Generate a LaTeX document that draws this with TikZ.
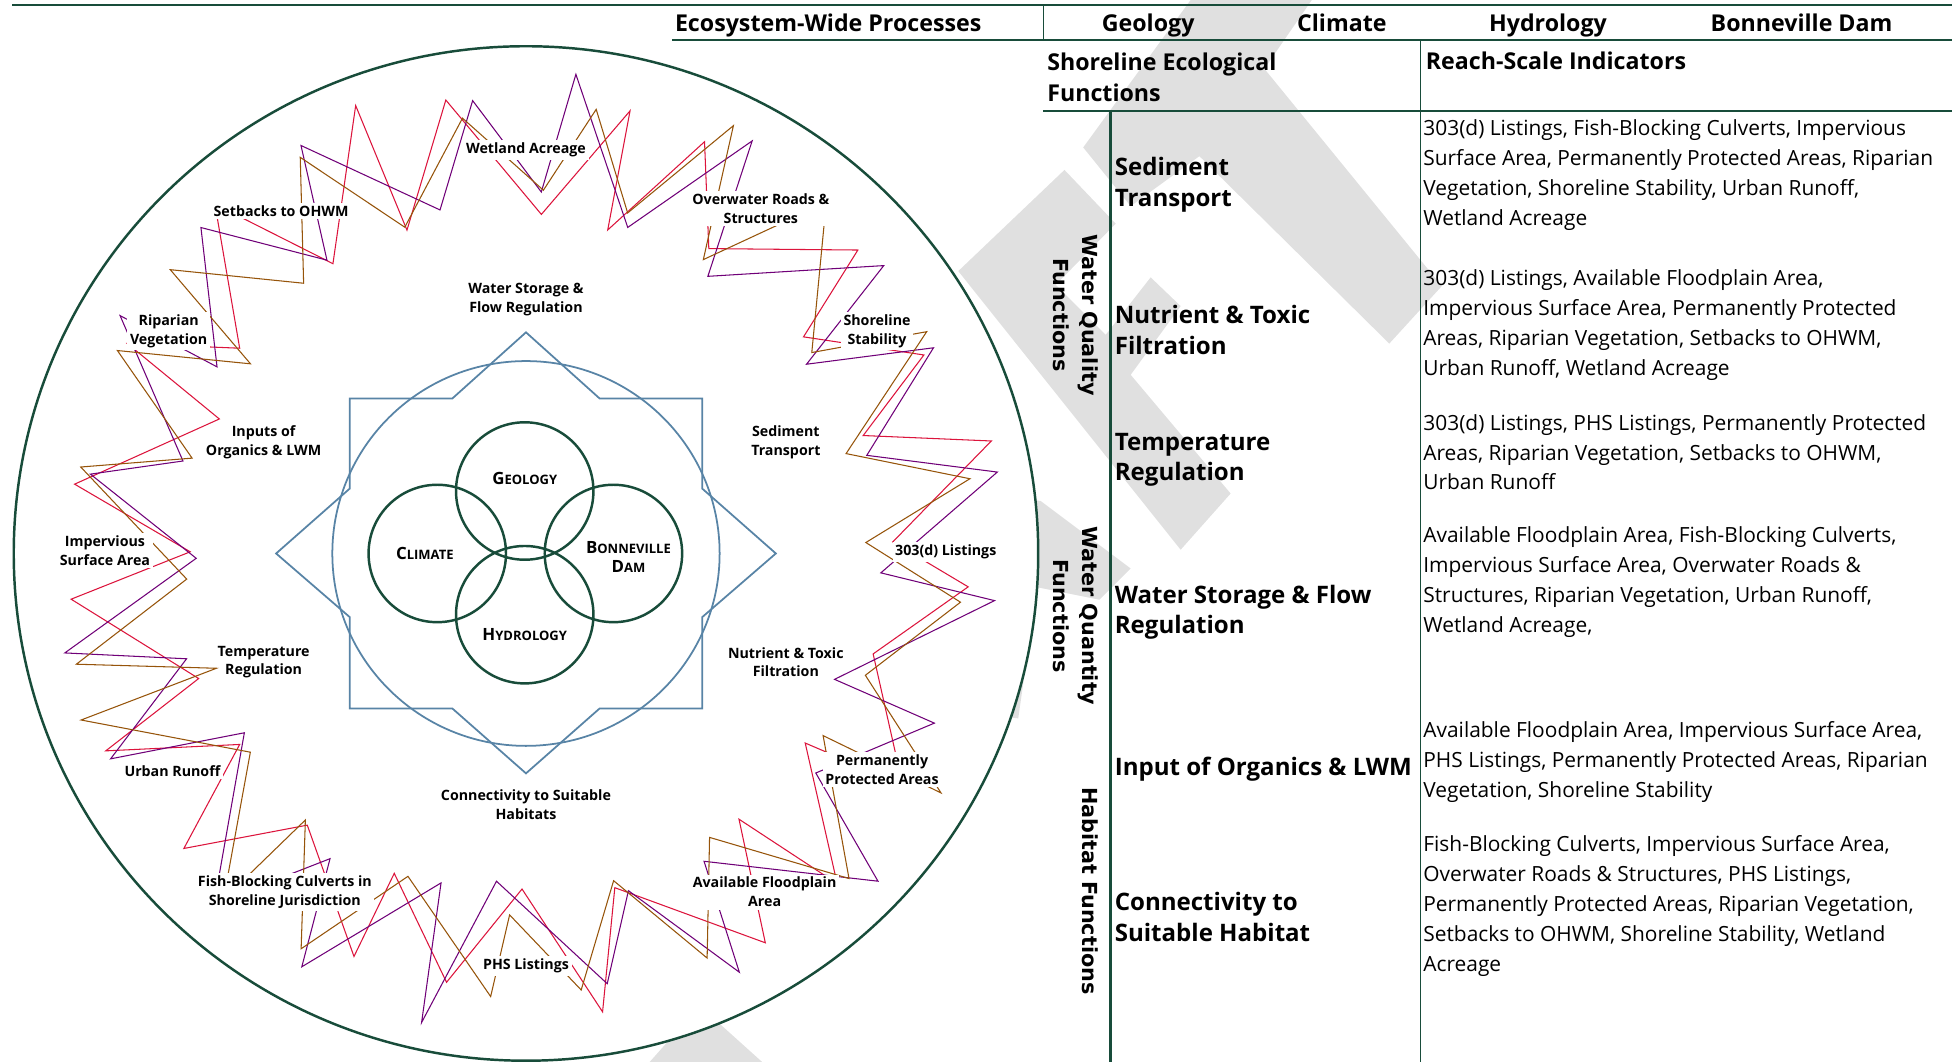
\documentclass[tikz,border=0pt]{standalone}
\usepackage{fontspec}
\setmainfont{Open Sans}
\newfontfamily\vertfont{DejaVu Sans}
\usepackage{xcolor}
\usetikzlibrary{backgrounds}

\definecolor{tablegreen}{RGB}{24,76,58}
\definecolor{starblue}{RGB}{88,132,166}
\definecolor{wmgray}{RGB}{224,224,224}
\definecolor{zzred}{RGB}{220,20,60}
\definecolor{zzpurple}{RGB}{112,0,120}
\definecolor{zzbrown}{RGB}{150,84,10}

% fake small caps for the four core processes
\newcommand{\fakesc}[2]{{\fontsize{9.6}{11}\selectfont #1}{\fontsize{7.4}{9}\selectfont #2}}

\begin{document}
\begin{tikzpicture}[
        x=0.025cm, y=-0.025cm,
        rule/.style={draw=tablegreen, line width=1.4pt},
        thinrule/.style={draw=tablegreen, line width=0.8pt},
        colhead/.style={font=\bfseries\fontsize{13.2}{17.5}\selectfont,
            inner sep=0pt, anchor=base},
        headcell/.style={font=\bfseries\fontsize{13.2}{17.5}\selectfont,
            align=left, anchor=west, inner sep=0pt},
        funcname/.style={font=\bfseries\fontsize{13.7}{17.5}\selectfont,
            align=left, anchor=west, inner sep=0pt},
        indicators/.style={font=\fontsize{11.9}{17}\selectfont,
            align=left, anchor=west, inner sep=0pt},
        group/.style={font=\vertfont\bfseries\fontsize{11.8}{17}\selectfont,
            align=center, rotate=-90, inner sep=0pt},
        ringlabel/.style={font=\bfseries\fontsize{8.1}{10.7}\selectfont,
            align=center, fill=white, inner sep=1.5pt},
        funclabel/.style={font=\bfseries\fontsize{8.1}{10.7}\selectfont,
            align=center, inner sep=0pt},
        core/.style={draw=tablegreen, line width=1.4pt},
        star/.style={draw=starblue, line width=1pt},
        zigzag/.style={line width=0.6pt, line join=miter}
    ]
        \useasboundingbox (0,0) rectangle (1568,850);

        % Watermark pieces behind everything.
        \begin{scope}[on background layer]
            \fill[wmgray] (867,118) -- (953,0) -- (1050,0) -- (1012,55)
                -- (1154,229) -- (1112,275) -- (960,125) -- (905,165) -- cycle;
            \fill[wmgray] (767,217) -- (852,136) -- (893,179) -- (845,228)
                -- (885,268) -- (921,222) -- (945,245) -- (905,300)
                -- (985,395) -- (945,440) -- cycle;
            \fill[wmgray] (790,395) -- (833,401) -- (905,455) -- (880,480)
                -- (830,470) -- (815,575) -- (775,570) -- cycle;
            \fill[wmgray] (520,850) -- (560,805) -- (610,850) -- cycle;
        \end{scope}

        % Outer ring of the conceptual model.
        \draw[tablegreen, line width=1.4pt, fill=white] (421,443)
            ellipse [x radius=410, y radius=406];

        % Indicator zigzags, one colour per series.
        \begin{scope}[shift={(421,443)}]
            \foreach \zzcol/\zzseed in {zzred/3, zzpurple/17, zzbrown/29} {
                \pgfmathsetseed{\zzseed}
                \draw[zigzag, \zzcol] ({5*rand}:{265+30*rnd})
                    \foreach \i in {1,...,39} {
                        -- ({\i*9+5*rand}:{ifthenelse(isodd(\i),388-40*rnd,262+30*rnd)})
                    } -- cycle;
            }
        \end{scope}

        % Star and circle round the core.
        \draw[star] (421,443) ellipse [x radius=155, y radius=154];
        \draw[star] (280,319) -- (362,319) -- (421,266) -- (480,319)
            -- (562,319) -- (562,391) -- (621,443) -- (562,494)
            -- (562,567) -- (480,567) -- (421,619) -- (362,567)
            -- (280,567) -- (280,494) -- (221,443) -- (280,391) -- cycle;

        % Ecosystem-wide processes.
        \draw[core] (420,393) circle [radius=55];
        \draw[core] (350,443) circle [radius=55];
        \draw[core] (491,443) circle [radius=55];
        \draw[core] (420,492) circle [radius=55];
        \node[funclabel] (geology) at (420,383) {\fakesc{G}{EOLOGY}};
        \node[funclabel] (climate) at (340,443) {\fakesc{C}{LIMATE}};
        \node[funclabel] (dam) at (503,446) {\fakesc{B}{ONNEVILLE}\\\fakesc{D}{AM}};
        \node[funclabel] (hydrology) at (420,508) {\fakesc{H}{YDROLOGY}};

        % Shoreline ecological functions inside the ring.
        \node[funclabel] (fstorage) at (421,240) {Water Storage \&\\Flow Regulation};
        \node[funclabel] (forganics) at (211,354) {Inputs of\\Organics \& LWM};
        \node[funclabel] (fsediment) at (629,354) {Sediment\\Transport};
        \node[funclabel] (ftemp) at (211,530) {Temperature\\Regulation};
        \node[funclabel] (fnutrient) at (629,530) {Nutrient \& Toxic\\Filtration};
        \node[funclabel] (fconnect) at (421,644) {Connectivity to Suitable\\Habitats};

        % Reach-scale indicators on the ring.
        \node[ringlabel] (wetland) at (421,120) {Wetland Acreage};
        \node[ringlabel] (overwater) at (609,167) {Overwater Roads \&\\Structures};
        \node[ringlabel] (setbacks) at (225,169) {Setbacks to OHWM};
        \node[ringlabel] (riparian) at (135,265) {Riparian\\Vegetation};
        \node[ringlabel] (stability) at (702,265) {Shoreline\\Stability};
        \node[ringlabel] (impervious) at (84,441) {Impervious\\Surface Area};
        \node[ringlabel] (listings) at (757,442) {303(d) Listings};
        \node[ringlabel] (runoff) at (138,617) {Urban Runoff};
        \node[ringlabel] (protected) at (706,616) {Permanently\\Protected Areas};
        \node[ringlabel] (culverts) at (228,714) {Fish-Blocking Culverts in\\Shoreline Jurisdiction};
        \node[ringlabel] (floodplain) at (612,714) {Available Floodplain\\Area};
        \node[ringlabel] (phs) at (421,773) {PHS Listings};

        % Table rules.
        \draw[rule] (10,4) -- (1562,4);
        \draw[rule] (538,32) -- (1562,32);
        \draw[rule] (835,89) -- (1562,89);
        \draw[thinrule] (835,4) -- (835,32);
        \draw[thinrule] (1137,32) -- (1137,850);
        \draw[rule] (889,89) -- (889,850);

        % Header rows.
        \node[colhead, anchor=base west] (hprocess) at (540,25) {Ecosystem-Wide Processes};
        \node[colhead] (hgeology) at (919,25) {Geology};
        \node[colhead] (hclimate) at (1074,25) {Climate};
        \node[colhead] (hhydrology) at (1239,25) {Hydrology};
        \node[colhead] (hdam) at (1442,25) {Bonneville Dam};
        \node[headcell] (hfunctions) at (838,62) {Shoreline Ecological\\Functions};
        \node[headcell] (hindicators) at (1141,49) {Reach-Scale Indicators};

        % Function groups.
        \node[group] (gquality) at (861,252) {Water Quality\\Functions};
        \node[group] (gquantity) at (861,493) {Water Quantity\\Functions};
        \node[group] (ghabitat) at (873,713) {Habitat Functions};

        % Function rows and their indicators.
        \node[funcname] (rsediment) at (892,148) {Sediment\\Transport};
        \node[funcname] (rnutrient) at (892,264) {Nutrient \& Toxic\\Filtration};
        \node[funcname] (rtemp) at (892,368) {Temperature\\Regulation};
        \node[funcname] (rstorage) at (892,490) {Water Storage \& Flow\\Regulation};
        \node[funcname] (rorganics) at (892,616) {Input of Organics \& LWM};
        \node[funcname] (rconnect) at (892,734) {Connectivity to\\Suitable Habitat};

        \node[indicators] (isediment) at (1139,140)
            {303(d) Listings, Fish-Blocking Culverts, Impervious\\Surface Area, Permanently Protected Areas, Riparian\\Vegetation, Shoreline Stability, Urban Runoff,\\Wetland Acreage};
        \node[indicators] (inutrient) at (1139,260)
            {303(d) Listings, Available Floodplain Area,\\Impervious Surface Area, Permanently Protected\\Areas, Riparian Vegetation, Setbacks to OHWM,\\Urban Runoff, Wetland Acreage};
        \node[indicators] (itemp) at (1139,362)
            {303(d) Listings, PHS Listings, Permanently Protected\\Areas, Riparian Vegetation, Setbacks to OHWM,\\Urban Runoff};
        \node[indicators] (istorage) at (1139,466)
            {Available Floodplain Area, Fish-Blocking Culverts,\\Impervious Surface Area, Overwater Roads \&\\Structures, Riparian Vegetation, Urban Runoff,\\Wetland Acreage,};
        \node[indicators] (iorganics) at (1139,610)
            {Available Floodplain Area, Impervious Surface Area,\\PHS Listings, Permanently Protected Areas, Riparian\\Vegetation, Shoreline Stability};
        \node[indicators] (iconnect) at (1139,725)
            {Fish-Blocking Culverts, Impervious Surface Area,\\Overwater Roads \& Structures, PHS Listings,\\Permanently Protected Areas, Riparian Vegetation,\\Setbacks to OHWM, Shoreline Stability, Wetland\\Acreage};
    \end{tikzpicture}
\end{document}
